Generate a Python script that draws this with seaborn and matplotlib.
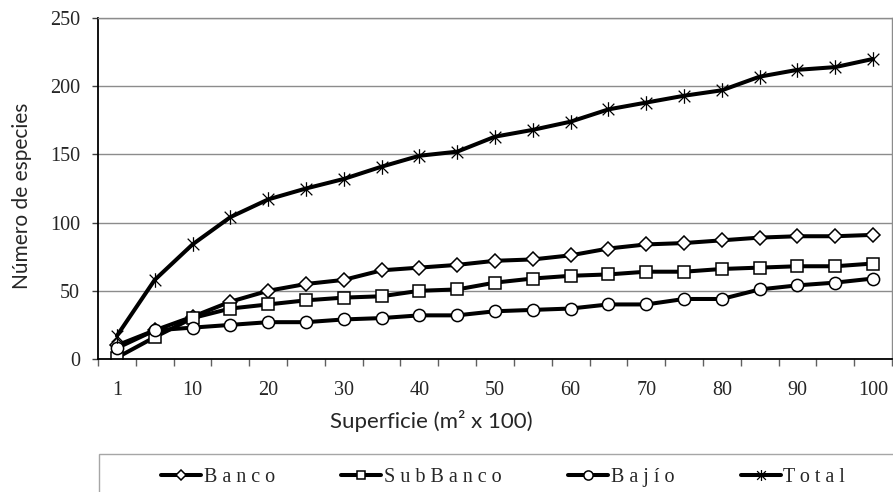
import numpy as np
import pandas as pd
import matplotlib
matplotlib.use("Agg")
import matplotlib.pyplot as plt
from matplotlib.path import Path
from matplotlib.patches import Rectangle
import seaborn as sns

# Superficie (m2 x 100) -- one category per sampled area
superficie = [1, 5, 10, 15, 20, 25, 30, 35, 40, 45, 50,
              55, 60, 65, 70, 75, 80, 85, 90, 95, 100]
tick_labels = ["1", "10", "20", "30", "40", "50", "60", "70", "80", "90", "100"]
series_names = ["Banco", "SubBanco", "Bajío", "Total"]

banco = [10, 21, 31, 42, 50, 55, 58, 65, 67, 69, 72,
         73, 76, 81, 84, 85, 87, 89, 90, 90, 91]
subbanco = [1, 16, 30, 37, 40, 43, 45, 46, 50, 51, 56,
            59, 61, 62, 64, 64, 66, 67, 68, 68, 70]
bajio = [8, 21, 23, 25, 27, 27, 29, 30, 32, 32, 35,
         36, 37, 40, 40, 44, 44, 51, 54, 56, 59]
total = [17, 58, 84, 104, 117, 125, 132, 141, 149, 152, 163,
         168, 174, 183, 188, 193, 197, 207, 212, 214, 220]

values = [banco, subbanco, bajio, total]

df = pd.concat(
    [pd.DataFrame({"pos": np.arange(len(superficie)),
                   "superficie": superficie,
                   "especies": v,
                   "zona": name})
     for name, v in zip(series_names, values)],
    ignore_index=True,
)

sns.set_theme(style="white")
plt.rcParams["font.family"] = ["Liberation Serif", "DejaVu Serif"]

# asterisk marker: an X with a vertical bar
star = Path([(-1, -1), (1, 1), (-1, 1), (1, -1), (0, -1.25), (0, 1.25)],
            [Path.MOVETO, Path.LINETO, Path.MOVETO, Path.LINETO,
             Path.MOVETO, Path.LINETO])

marker_styles = {
    "Banco": dict(marker="D", markersize=6.8, markeredgewidth=1.1),
    "SubBanco": dict(marker="s", markersize=8.6, markeredgewidth=1.1),
    "Bajío": dict(marker="o", markersize=8.8, markeredgewidth=1.1),
    "Total": dict(marker=star, markersize=10.5, markeredgewidth=0.9),
}

fig = plt.figure(figsize=(8.93, 4.92), dpi=100)
ax = fig.add_axes([98 / 893, 1 - 359 / 492, 794 / 893, 341 / 492])

for name in series_names:
    sub = df[df["zona"] == name]
    sns.lineplot(
        data=sub, x="pos", y="especies", ax=ax,
        color="black", linewidth=2.9, label=" ".join(name),
        markerfacecolor="white", markeredgecolor="black",
        **marker_styles[name]
    )

ax.set_xlim(-0.5, len(superficie) - 0.5)
ax.set_ylim(0, 250)
ax.set_yticks([0, 50, 100, 150, 200, 250])

# category boundaries as ticks, labels every other category
ax.set_xticks(np.arange(-0.5, len(superficie)), labels=[""] * (len(superficie) + 1))
ax.set_xticks(np.arange(0, len(superficie), 2), labels=tick_labels, minor=True)
ax.tick_params(axis="x", which="major", direction="out", length=5,
               width=1, color="#606060", bottom=True)
ax.tick_params(axis="x", which="minor", length=0, pad=16, labelsize=14.5)
ax.tick_params(axis="y", direction="out", length=4, width=1,
               color="#404040", pad=9, labelsize=14.5, left=True)

ax.yaxis.grid(True, color="#8c8c8c", linewidth=1)
ax.set_axisbelow(True)
for side in ["left", "bottom"]:
    ax.spines[side].set_color("black")
    ax.spines[side].set_linewidth(1.3)
for side in ["top", "right"]:
    ax.spines[side].set_color("#8c8c8c")
    ax.spines[side].set_linewidth(1)

ax.set_xlabel("Superficie (m² x 100)", family=["Lato", "DejaVu Sans"], size=16)
ax.set_ylabel("Número de especies", family=["Lato", "DejaVu Sans"], size=15)
ax.xaxis.set_label_coords(0.42, -0.15)
ax.yaxis.set_label_coords(-0.083, 0.48)

handles, labels = ax.get_legend_handles_labels()
ax.get_legend().remove()
fig.legend(handles, labels, ncol=4, loc="center",
           bbox_to_anchor=(503 / 893, 1 - 477 / 492),
           frameon=False, handlelength=2.0, handletextpad=0.12,
           columnspacing=3.3, markerscale=0.75,
           prop=dict(family=["Liberation Serif"], size=14.5))

fig.add_artist(Rectangle((99 / 893, -0.2), 1.0, 0.2 + (1 - 454 / 492),
                         transform=fig.transFigure, fill=False,
                         edgecolor="#a6a6a6", linewidth=1))

fig.savefig("out.png", dpi=100)
